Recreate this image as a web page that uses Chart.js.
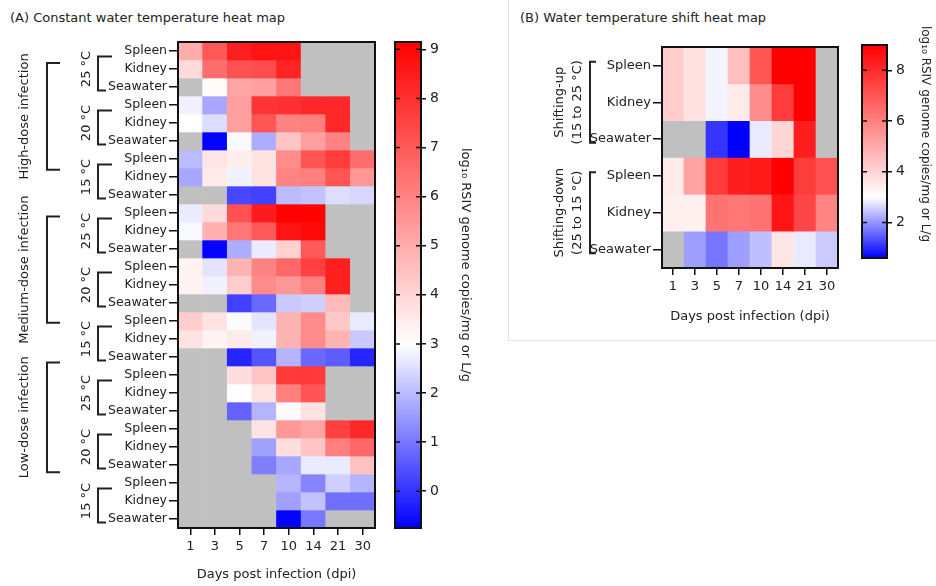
<!DOCTYPE html>
<html>
<head>
<meta charset="utf-8">
<script src="https://cdn.jsdelivr.net/npm/chart.js@4.4.1/dist/chart.umd.min.js"></script>
<style>
  body { margin: 0; background: #fff; width: 936px; height: 586px; position: relative; overflow: hidden; font-family: "DejaVu Sans", Verdana, sans-serif; }
  canvas { position: absolute; }
  .ttl { position: absolute; font-size: 13px; color: #222; white-space: nowrap; }
  .sep { position: absolute; background: #e2e2e2; }
</style>
</head>
<body>
<div class="ttl" style="left:10px;top:10px">(A) Constant water temperature heat map</div>
<div class="ttl" style="left:520px;top:10px">(B) Water temperature shift heat map</div>
<div class="sep" style="left:508px;top:0;width:1px;height:340px"></div>
<div class="sep" style="left:508px;top:340px;width:428px;height:1px"></div>

<canvas id="heatA" width="390" height="586" style="left:0;top:0"></canvas>
<canvas id="barA" width="88" height="586" style="left:385px;top:0"></canvas>
<canvas id="heatB" width="340" height="328" style="left:510px;top:0"></canvas>
<canvas id="barB" width="84" height="300" style="left:852px;top:0"></canvas>

<script>
const days = ['1', '3', '5', '7', '10', '14', '21', '30'];
const organs = ['Spleen', 'Kidney', 'Seawater'];
const temps = ['25 °C', '20 °C', '15 °C'];
const doses = ['High-dose infection', 'Medium-dose infection', 'Low-dose infection'];
const shifts = [['Shifting-up', '(15 to 25 °C)'], ['Shifting-down', '(25 to 15 °C)']];

// log10 copies, rows: 25 °C (spleen, kidney, seawater), 20 °C, 15 °C; null = not detected (gray)
const highDose = [
  [5.0, 7.0, 8.4, 8.7, 8.7, null, null, null],
  [3.9, 6.5, 7.2, 7.3, 8.3, null, null, null],
  [null, 3.1, 5.2, 5.3, 6.3, null, null, null],
  [2.8, 1.7, 5.3, 7.9, 8.0, 8.2, 8.2, null],
  [3.0, 2.5, 5.3, 7.1, 6.0, 6.1, 8.2, null],
  [null, -0.7, 2.9, 1.8, 4.4, 5.3, 6.0, null],
  [2.0, 3.6, 3.4, 3.7, 5.8, 7.1, 7.7, 6.5],
  [1.7, 3.5, 2.8, 3.7, 6.0, 6.1, 7.1, 5.5],
  [null, null, 0.3, 0.2, 2.0, 2.1, 2.5, 2.4]
];
const mediumDose = [
  [2.7, 3.9, 7.2, 8.5, 9.1, 9.1, null, null],
  [2.9, 4.9, 6.3, 7.0, 8.7, 8.9, null, null],
  [null, -0.7, 1.8, 2.7, 4.1, 7.0, null, null],
  [3.3, 2.6, 4.8, 6.0, 6.7, 7.6, 8.4, null],
  [3.3, 2.8, 4.2, 5.8, 5.5, 6.1, 8.4, null],
  [null, null, 0.2, 0.8, 2.2, 2.3, 4.7, null],
  [4.2, 3.7, 2.95, 2.6, 4.8, 5.8, 4.3, 2.7],
  [3.7, 3.3, 3.5, 2.8, 4.8, 5.8, 4.8, 2.2],
  [null, null, -0.2, 0.5, 1.9, 0.8, 0.6, -0.2]
];
const lowDose = [
  [null, null, 3.8, 4.4, 7.8, 7.8, null, null],
  [null, null, 3.05, 3.7, 6.1, 7.1, null, null],
  [null, null, 0.7, 1.9, 3.1, 3.7, null, null],
  [null, null, null, 3.7, 5.5, 5.2, 7.6, 8.2],
  [null, null, null, 1.6, 3.8, 4.4, 6.1, 6.7],
  [null, null, null, 1.1, 1.7, 2.7, 2.7, 4.5],
  [null, null, null, null, 1.9, 1.2, 2.3, 1.9],
  [null, null, null, null, 1.6, 2.1, 0.9, 0.9],
  [null, null, null, null, -0.7, 1.0, null, null]
];

// panel B, rows: spleen, kidney, seawater
const shiftUp = [
  [4.2, 3.7, 2.9, 4.5, 7.0, 9.0, 9.0, null],
  [4.2, 3.7, 2.9, 3.5, 5.7, 7.6, 9.0, null],
  [null, null, 1.1, 0.6, 2.8, 4.0, 8.3, null]
];
const shiftDown = [
  [3.5, 5.2, 7.6, 8.3, 8.4, 9.0, 7.6, 7.1],
  [3.35, 3.35, 6.3, 6.2, 6.3, 8.5, 7.35, 5.9],
  [null, 2.1, 1.7, 2.1, 2.4, 3.6, 2.8, 2.5]
];

// colour scales (blue - white - red)
const scaleA = { min: -0.75, mid: 3, max: 9.15 };
const scaleB = { min: 0.6, mid: 3, max: 9.0 };
const ticksA = [0, 1, 2, 3, 4, 5, 6, 7, 8, 9];
const ticksB = [2, 4, 6, 8];
const barTitle = 'log₁₀ RSIV genome copies/mg or L/g';

Chart.defaults.font.family = '"DejaVu Sans", Verdana, sans-serif';
Chart.defaults.color = '#222';

function cellColor(v, sc) {
  if (v === null) return '#c0c0c0';
  if (v <= sc.mid) {
    const c = Math.round(255 * Math.max(0, (v - sc.min) / (sc.mid - sc.min)));
    return `rgb(${c},${c},255)`;
  }
  const c = Math.round(255 * (1 - Math.min(1, (v - sc.mid) / (sc.max - sc.mid))));
  return `rgb(255,${c},${c})`;
}

function rotText(c, text, x, y, angle) {
  c.save();
  c.translate(x, y);
  c.rotate(angle);
  c.textAlign = 'center';
  c.textBaseline = 'middle';
  c.fillText(text, 0, 0);
  c.restore();
}

const frame = {
  id: 'frame',
  afterDatasetsDraw(chart) {
    const a = chart.chartArea, c = chart.ctx;
    c.save();
    c.strokeStyle = '#111';
    c.lineWidth = 2;
    c.strokeRect(a.left, a.top, a.right - a.left, a.bottom - a.top);
    c.restore();
  }
};

function bracket(c, x, y0, y1, topEnd, botEnd) {
  c.beginPath();
  c.moveTo(topEnd, y0);
  c.lineTo(x, y0);
  c.lineTo(x, y1);
  c.lineTo(botEnd, y1);
  c.stroke();
}

const groupsA = {
  id: 'groupsA',
  afterDraw(chart) {
    const y = chart.scales.y, c = chart.ctx;
    const doseSpan = [[0.67, 6.6], [9.2, 15.1], [17.3, 23.4]];
    c.save();
    c.strokeStyle = '#222';
    c.fillStyle = '#222';
    c.lineWidth = 2;
    c.font = '13px "DejaVu Sans"';
    doses.forEach((dose, d) => {
      temps.forEach((t, k) => {
        const i = d * 9 + k * 3;
        bracket(c, 98, y.getPixelForValue(i + 0.3), y.getPixelForValue(i + 2.2), 112, 106);
        rotText(c, t, 87, y.getPixelForValue(i + 1), -Math.PI / 2);
      });
      const y0 = y.getPixelForValue(doseSpan[d][0]), y1 = y.getPixelForValue(doseSpan[d][1]);
      bracket(c, 47, y0, y1, 60, 60);
      rotText(c, dose, 25, (y0 + y1) / 2, -Math.PI / 2);
    });
    c.restore();
  }
};

const groupsB = {
  id: 'groupsB',
  afterDraw(chart) {
    const y = chart.scales.y, c = chart.ctx;
    c.save();
    c.strokeStyle = '#222';
    c.fillStyle = '#222';
    c.lineWidth = 2;
    c.font = '13px "DejaVu Sans"';
    shifts.forEach((lines, g) => {
      const i = g * 3;
      const y0 = y.getPixelForValue(i - 0.1), y1 = y.getPixelForValue(i + 2.1);
      bracket(c, 80, y0, y1, 86, 86);
      rotText(c, lines[0], 50, (y0 + y1) / 2, -Math.PI / 2);
      rotText(c, lines[1], 68, (y0 + y1) / 2, -Math.PI / 2);
    });
    c.restore();
  }
};

function heatChart(id, rows, sc, box, labelSize, deco) {
  const rowLabels = rows.map((_, i) => organs[i % 3]);
  return new Chart(document.getElementById(id), {
    type: 'bar',
    data: {
      labels: days,
      datasets: rows.map((vals, r) => ({
        data: vals.map(() => [r - 0.5, r + 0.5]),
        backgroundColor: vals.map(v => cellColor(v, sc)),
        borderWidth: 0,
        barPercentage: 1,
        categoryPercentage: 1,
        grouped: false
      }))
    },
    options: {
      responsive: false,
      animation: false,
      layout: { padding: { left: 0, top: box.top, right: box.right, bottom: 0 } },
      plugins: { legend: { display: false }, tooltip: { enabled: false } },
      scales: {
        x: {
          grid: { offset: false, drawOnChartArea: false, color: '#111', lineWidth: 1.5, tickLength: 7 },
          border: { display: false },
          ticks: { font: { size: 13 }, padding: 4, maxRotation: 0 },
          title: { display: true, text: 'Days post infection (dpi)', font: { size: 13 } },
          afterFit: s => { s.height = box.xh; }
        },
        y: {
          min: -0.5,
          max: rows.length - 0.5,
          reverse: true,
          afterBuildTicks: s => { s.ticks = rowLabels.map((_, i) => ({ value: i })); },
          grid: { drawOnChartArea: false, color: '#111', lineWidth: 1.5, tickLength: 9 },
          border: { display: false },
          ticks: { autoSkip: false, font: { size: labelSize }, padding: 2, callback: v => rowLabels[v] },
          afterFit: s => { s.width = box.left; }
        }
      }
    },
    plugins: [frame, deco]
  });
}

function colorBar(id, sc, tickVals, box) {
  const innerTicks = {
    id: 'innerTicks',
    afterDraw(chart) {
      const a = chart.chartArea, y = chart.scales.y, c = chart.ctx;
      c.save();
      c.strokeStyle = '#111';
      c.lineWidth = 1.5;
      tickVals.forEach(v => {
        const p = y.getPixelForValue(v);
        c.beginPath();
        c.moveTo(a.left, p); c.lineTo(a.left + 5, p);
        c.moveTo(a.right - 5, p); c.lineTo(a.right, p);
        c.stroke();
      });
      c.fillStyle = '#222';
      c.font = box.titleFont;
      rotText(c, barTitle, box.titleX, box.titleY, Math.PI / 2);
      c.restore();
    }
  };
  return new Chart(document.getElementById(id), {
    type: 'bar',
    data: {
      labels: [''],
      datasets: [{
        data: [[sc.min, sc.max]],
        backgroundColor: ctx => {
          const a = ctx.chart.chartArea;
          if (!a || !isFinite(a.top) || !isFinite(a.bottom) || a.bottom <= a.top) return '#fff';
          const g = ctx.chart.ctx.createLinearGradient(0, a.bottom, 0, a.top);
          g.addColorStop(0, '#0000ff');
          g.addColorStop((sc.mid - sc.min) / (sc.max - sc.min), '#ffffff');
          g.addColorStop(1, '#ff0000');
          return g;
        },
        borderWidth: 0,
        barPercentage: 1,
        categoryPercentage: 1
      }]
    },
    options: {
      responsive: false,
      animation: false,
      layout: { padding: { left: box.left, top: box.top, right: 0, bottom: box.bottom } },
      plugins: { legend: { display: false }, tooltip: { enabled: false } },
      scales: {
        x: { display: false },
        y: {
          position: 'right',
          min: sc.min,
          max: sc.max,
          afterBuildTicks: s => { s.ticks = tickVals.map(v => ({ value: v })); },
          grid: { drawOnChartArea: false, color: '#111', lineWidth: 1.5, tickLength: 5 },
          border: { display: false },
          ticks: { font: { size: 14 }, padding: 4 },
          afterFit: s => { s.width = box.axisW; }
        }
      }
    },
    plugins: [frame, innerTicks]
  });
}

heatChart('heatA', [...highDose, ...mediumDose, ...lowDose], scaleA,
  { top: 42, left: 178, right: 15, xh: 58 }, 12.5, groupsA);
colorBar('barA', scaleA, ticksA,
  { left: 10, top: 42, bottom: 58, axisW: 52, titleX: 80, titleY: 265, titleFont: '13px "DejaVu Sans"' });

heatChart('heatB', [...shiftUp, ...shiftDown], scaleB,
  { top: 47, left: 152, right: 12, xh: 60 }, 13, groupsB);
colorBar('barB', scaleB, ticksB,
  { left: 10, top: 45, bottom: 42, axisW: 49, titleX: 73, titleY: 134, titleFont: '12px "DejaVu Sans"' });
</script>
</body>
</html>
